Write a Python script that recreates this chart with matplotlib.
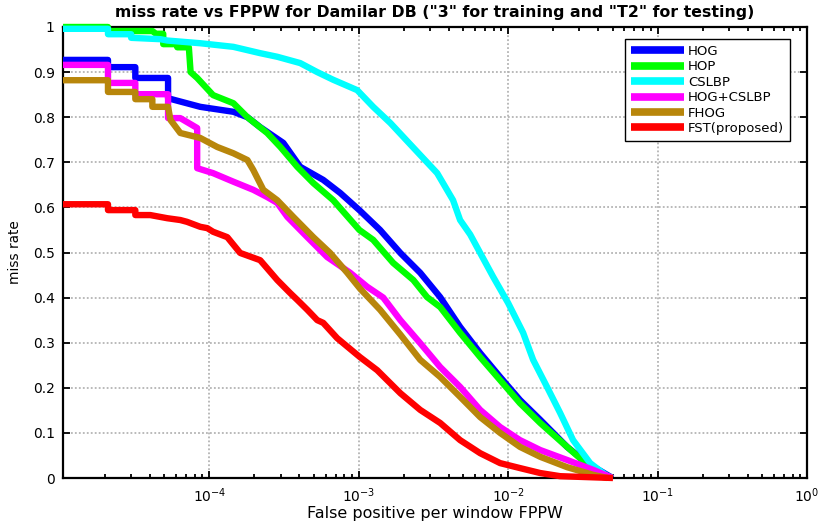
import matplotlib
matplotlib.use("Agg")
import matplotlib.pyplot as plt
from matplotlib.ticker import LogLocator, NullFormatter, FixedLocator, FixedFormatter

# ---- data ----
hog_x = [1.05e-5, 2.1e-5, 2.1e-5, 3.2e-5, 3.2e-5, 5.3e-5, 5.3e-5, 8.7e-5, 1.45e-4, 1.80e-4,
         2.19e-4, 3.13e-4, 4.06e-4, 5.79e-4, 7.52e-4, 1.01e-3, 1.39e-3, 1.90e-3, 2.58e-3,
         3.51e-3, 4.77e-3, 6.50e-3, 8.84e-3, 1.20e-2, 1.64e-2, 2.48e-2, 3.38e-2, 4.6e-2, 5.0e-2]
hog_y = [0.927, 0.927, 0.911, 0.911, 0.887, 0.887, 0.842, 0.823, 0.812, 0.800,
         0.778, 0.743, 0.690, 0.661, 0.632, 0.594, 0.550, 0.499, 0.455,
         0.401, 0.335, 0.277, 0.224, 0.173, 0.129, 0.069, 0.033, 0.007, 0.0]

hop_x = [1.05e-5, 2.1e-5, 2.1e-5, 4.16e-5, 4.4e-5, 4.92e-5, 4.92e-5, 6.11e-5, 6.11e-5, 7.3e-5,
         7.5e-5, 8.3e-5, 1.06e-4, 1.45e-4, 1.80e-4,
         2.44e-4, 2.99e-4, 3.88e-4, 4.97e-4, 6.75e-4, 1.01e-3, 1.25e-3, 1.70e-3, 2.32e-3,
         2.87e-3, 3.51e-3, 4.77e-3, 6.50e-3, 8.84e-3, 1.20e-2, 1.64e-2, 2.48e-2, 3.38e-2,
         4.6e-2, 5.0e-2]
hop_y = [1.0, 1.0, 0.991, 0.991, 0.985, 0.985, 0.962, 0.962, 0.955, 0.955,
         0.900, 0.887, 0.849, 0.831, 0.800,
         0.765, 0.734, 0.690, 0.654, 0.616, 0.550, 0.528, 0.477, 0.439,
         0.401, 0.379, 0.322, 0.268, 0.217, 0.166, 0.122, 0.069, 0.030,
         0.005, 0.0]

cslbp_x = [1.05e-5, 2.1e-5, 2.1e-5, 3.0e-5, 3.0e-5, 4.7e-5, 5.24e-5, 8.7e-5, 1.45e-4, 2.19e-4,
           2.85e-4, 4.06e-4, 5.28e-4, 6.75e-4, 9.77e-4, 1.25e-3, 1.63e-3, 2.21e-3, 3.35e-3,
           4.28e-3, 4.77e-3, 5.57e-3, 6.50e-3, 7.94e-3, 1.0e-2, 1.26e-2, 1.47e-2, 1.82e-2,
           2.23e-2, 2.72e-2, 3.54e-2, 4.6e-2, 5.0e-2]
cslbp_y = [0.996, 0.996, 0.984, 0.984, 0.976, 0.973, 0.970, 0.964, 0.956, 0.942,
           0.934, 0.920, 0.900, 0.883, 0.860, 0.823, 0.787, 0.740, 0.676,
           0.616, 0.572, 0.540, 0.499, 0.446, 0.388, 0.322, 0.262, 0.202,
           0.144, 0.084, 0.033, 0.004, 0.0]

hogcs_x = [1.05e-5, 2.1e-5, 2.1e-5, 3.2e-5, 3.2e-5, 5.3e-5, 5.3e-5, 6.4e-5, 8.3e-5, 8.3e-5,
           1.06e-4, 1.45e-4, 1.97e-4, 2.44e-4, 2.85e-4, 3.33e-4, 4.53e-4, 6.15e-4, 8.77e-4,
           1.14e-3, 1.46e-3, 1.90e-3, 2.58e-3, 3.51e-3, 4.77e-3, 6.50e-3, 8.84e-3, 1.20e-2,
           1.64e-2, 2.48e-2, 3.71e-2, 5.0e-2]
hogcs_y = [0.916, 0.916, 0.876, 0.876, 0.851, 0.851, 0.798, 0.798, 0.776, 0.687,
           0.676, 0.657, 0.639, 0.623, 0.610, 0.579, 0.534, 0.490, 0.455,
           0.424, 0.400, 0.350, 0.299, 0.246, 0.202, 0.151, 0.113, 0.084,
           0.062, 0.040, 0.018, 0.0]

fhog_x = [1.05e-5, 2.1e-5, 2.1e-5, 3.2e-5, 3.2e-5, 4.16e-5, 4.16e-5, 5.3e-5, 5.5e-5, 6.4e-5,
          8.7e-5, 1.13e-4, 1.45e-4, 1.80e-4, 1.97e-4, 2.30e-4, 2.85e-4, 3.65e-4, 4.97e-4,
          6.44e-4, 8.38e-4, 1.02e-3, 1.39e-3, 1.90e-3, 2.58e-3, 3.51e-3, 4.77e-3, 6.50e-3,
          8.84e-3, 1.20e-2, 1.64e-2, 2.48e-2, 3.71e-2, 4.6e-2]
fhog_y = [0.882, 0.882, 0.856, 0.856, 0.840, 0.840, 0.823, 0.823, 0.794, 0.765,
          0.754, 0.734, 0.720, 0.705, 0.683, 0.639, 0.616, 0.579, 0.534,
          0.499, 0.455, 0.420, 0.373, 0.318, 0.262, 0.224, 0.180, 0.135,
          0.100, 0.069, 0.047, 0.024, 0.007, 0.0]

fst_x = [1.05e-5, 2.1e-5, 2.1e-5, 3.2e-5, 3.2e-5, 4.03e-5, 5.24e-5, 6.4e-5, 7.1e-5, 8.7e-5,
         9.7e-5, 1.06e-4, 1.32e-4, 1.61e-4, 2.19e-4, 2.85e-4, 3.48e-4, 3.88e-4, 4.53e-4,
         5.28e-4, 5.79e-4, 7.18e-4, 1.02e-3, 1.33e-3, 1.90e-3, 2.58e-3, 3.51e-3, 4.77e-3,
         6.50e-3, 8.84e-3, 1.20e-2, 1.64e-2, 2.23e-2, 5.03e-2]
fst_y = [0.607, 0.607, 0.594, 0.594, 0.583, 0.583, 0.576, 0.572, 0.568, 0.557,
         0.554, 0.546, 0.534, 0.499, 0.483, 0.439, 0.410, 0.395, 0.373,
         0.350, 0.344, 0.310, 0.268, 0.239, 0.188, 0.151, 0.122, 0.084,
         0.055, 0.033, 0.022, 0.011, 0.004, 0.0]

series = [
    ("HOG", hog_x, hog_y, "#0000ff"),
    ("HOP", hop_x, hop_y, "#00ff00"),
    ("CSLBP", cslbp_x, cslbp_y, "#00ffff"),
    ("HOG+CSLBP", hogcs_x, hogcs_y, "#ff00ff"),
    ("FHOG", fhog_x, fhog_y, "#b8860b"),
    ("FST(proposed)", fst_x, fst_y, "#ff0000"),
]

ytick_vals = [0, 0.1, 0.2, 0.3, 0.4, 0.5, 0.6, 0.7, 0.8, 0.9, 1]
ytick_labels = ["0", "0.1", "0.2", "0.3", "0.4", "0.5", "0.6", "0.7", "0.8", "0.9", "1"]

# ---- figure ----
fig = plt.figure(figsize=(8.22, 5.24), dpi=100)
ax = fig.add_axes([63/822, 46/524, 744/822, 451/524])

for name, xs, ys, c in series:
    ax.plot(xs, ys, color=c, lw=4.6, label=name, solid_joinstyle="round",
            solid_capstyle="butt", clip_on=False, zorder=3)

ax.set_xscale("log")
ax.set_xlim(1.05e-5, 1.0)
ax.set_ylim(0, 1)

ax.xaxis.set_major_locator(LogLocator(base=10, numticks=10))
ax.xaxis.set_minor_locator(LogLocator(base=10, subs=range(2, 10), numticks=20))
ax.xaxis.set_minor_formatter(NullFormatter())
ax.yaxis.set_major_locator(FixedLocator(ytick_vals))
ax.yaxis.set_major_formatter(FixedFormatter(ytick_labels))

ax.tick_params(which="both", direction="in", top=True, right=True, labelsize=10,
               colors="black", width=1.3)
ax.tick_params(which="major", length=5, pad=6)
ax.tick_params(which="minor", length=3)
for s in ax.spines.values():
    s.set_linewidth(1.6)
    s.set_zorder(2.5)

ax.grid(True, which="major", linestyle=(0, (1, 1.2)), color="#b4b4b4", linewidth=1.3)
ax.set_axisbelow(True)

ax.set_title('miss rate vs FPPW for Damilar DB ("3" for training and "T2" for testing)',
             fontsize=11.3, fontweight="bold", pad=7)
ax.set_xlabel("False positive per window FPPW", fontsize=11.5, labelpad=1)
ax.set_ylabel("miss rate", fontsize=9.8, labelpad=8)

leg = ax.legend(loc="upper right", bbox_to_anchor=(0.977, 0.973), borderaxespad=0,
                fontsize=9.5, handlelength=4.0, handletextpad=0.3, labelspacing=0.18,
                fancybox=False, framealpha=1, edgecolor="black", borderpad=0.45)
leg.get_frame().set_linewidth(1.0)
leg.set_zorder(5)
for ln in leg.get_lines():
    ln.set_linewidth(5.5)

fig.savefig("out.png", dpi=100)
